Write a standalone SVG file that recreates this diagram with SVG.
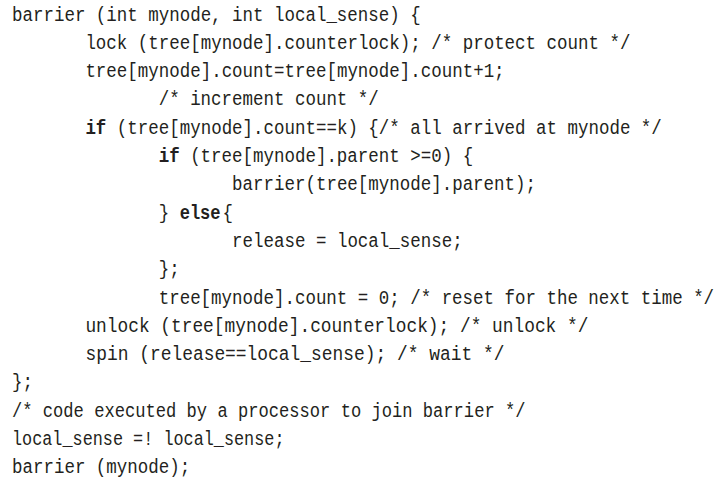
<svg xmlns="http://www.w3.org/2000/svg" width="720" height="480" viewBox="0 0 720 480">
<style>
text{font-family:"Liberation Mono","DejaVu Sans Mono",monospace;font-size:20px;fill:#231f20;white-space:pre}
.b{font-weight:bold}
</style>
<rect width="720" height="480" fill="#ffffff"/>
<g id="code">
<text x="12" y="20.5" textLength="408.7" lengthAdjust="spacingAndGlyphs">barrier (int mynode, int local_sense) {</text>
<text x="85.4" y="48.8" textLength="545" lengthAdjust="spacingAndGlyphs">lock (tree[mynode].counterlock); /* protect count */</text>
<text x="85.4" y="77.1" textLength="419.2" lengthAdjust="spacingAndGlyphs">tree[mynode].count=tree[mynode].count+1;</text>
<text x="158.7" y="105.4" textLength="220.1" lengthAdjust="spacingAndGlyphs">/* increment count */</text>
<text class="b" x="85.4" y="133.7" textLength="20.96" lengthAdjust="spacingAndGlyphs">if</text>
<text x="116.84" y="133.7" textLength="545" lengthAdjust="spacingAndGlyphs">(tree[mynode].count==k) {/* all arrived at mynode */</text>
<text class="b" x="158.7" y="162" textLength="20.96" lengthAdjust="spacingAndGlyphs">if</text>
<text x="190.14" y="162" textLength="283" lengthAdjust="spacingAndGlyphs">(tree[mynode].parent &gt;=0) {</text>
<text x="232.1" y="190.3" textLength="303.9" lengthAdjust="spacingAndGlyphs">barrier(tree[mynode].parent);</text>
<text x="158.7" y="218.6" textLength="10.48" lengthAdjust="spacingAndGlyphs">}</text>
<text class="b" x="179.66" y="218.6" textLength="40.9" lengthAdjust="spacingAndGlyphs">else</text>
<text x="222.6" y="218.6" textLength="10.48" lengthAdjust="spacingAndGlyphs">{</text>
<text x="232.1" y="246.9" textLength="230.6" lengthAdjust="spacingAndGlyphs">release = local_sense;</text>
<text x="158.7" y="275.2" textLength="21" lengthAdjust="spacingAndGlyphs">};</text>
<text x="158.7" y="303.5" textLength="555.4" lengthAdjust="spacingAndGlyphs">tree[mynode].count = 0; /* reset for the next time */</text>
<text x="85.4" y="331.8" textLength="503.0" lengthAdjust="spacingAndGlyphs">unlock (tree[mynode].counterlock); /* unlock */</text>
<text x="85.4" y="360.1" textLength="419.2" lengthAdjust="spacingAndGlyphs">spin (release==local_sense); /* wait */</text>
<text x="12" y="388.4" textLength="21" lengthAdjust="spacingAndGlyphs">};</text>
<text x="12" y="416.7" textLength="513.5" lengthAdjust="spacingAndGlyphs">/* code executed by a processor to join barrier */</text>
<text x="12" y="445" textLength="272.5" lengthAdjust="spacingAndGlyphs">local_sense =! local_sense;</text>
<text x="12" y="473.3" textLength="178.2" lengthAdjust="spacingAndGlyphs">barrier (mynode);</text>
</g>
</svg>
